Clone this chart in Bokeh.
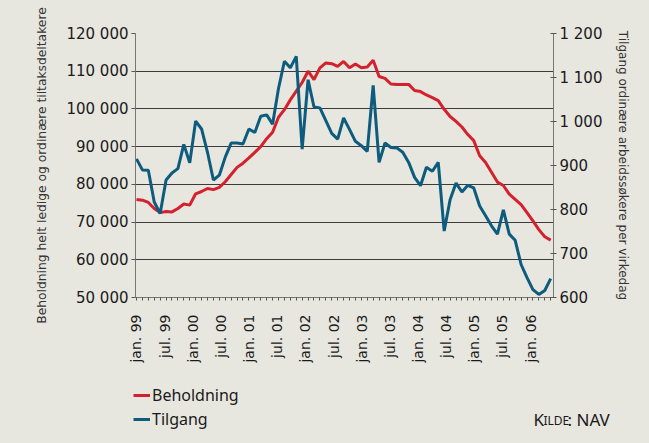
import math
from bokeh.plotting import figure
from bokeh.models import Range1d, LinearAxis, FixedTicker, Legend, LegendItem, Label
from bokeh.embed import file_html
from bokeh.resources import INLINE

# ---- data ----
beholdning = [76000, 75800, 75200, 73600, 72500, 72800, 72700, 73600, 74800, 74500,
              77500, 78100, 78900, 78600, 79200, 80700, 82600, 84500, 85600, 87000,
              88500, 90000, 92100, 93800, 97800, 99800, 102400, 104700, 107000, 110000,
              107800, 110900, 112200, 112000, 111300, 112600, 110900, 111900, 110900, 111100,
              112900, 108600, 108100, 106600, 106500, 106500, 106500, 104900, 104600, 103700,
              103000, 102200, 99900, 98000, 96700, 95200, 93200, 91600, 87600, 85800,
              83200, 80600, 79700, 77400, 76000, 74600, 72500, 70300, 68000, 66100, 65200]
tilgang = [915, 890, 889, 817, 791, 867, 883, 893, 948, 906,
           1001, 983, 930, 867, 878, 919, 951, 951, 949, 983,
           975, 1012, 1015, 994, 1075, 1137, 1122, 1148, 937, 1095,
           1033, 1031, 1002, 973, 960, 1008, 982, 955, 945, 932,
           1082, 907, 951, 941, 940, 930, 907, 873, 854, 896,
           887, 907, 751, 822, 860, 840, 855, 849, 808, 786,
           763, 744, 799, 744, 730, 675, 645, 618, 607, 616, 643]
tick_months = [0, 6, 12, 18, 24, 30, 36, 42, 48, 54, 60, 66, 72, 78, 84]
tick_labels = ["jan. 99", "jul. 99", "jan. 00", "jul. 00", "jan. 01", "jul. 01", "jan. 02",
               "jul. 02", "jan. 03", "jul. 03", "jan. 04", "jul. 04", "jan. 05", "jul. 05", "jan. 06"]
left_ticks = [50000, 60000, 70000, 80000, 90000, 100000, 110000, 120000]
left_labels = ["50 000", "60 000", "70 000", "80 000", "90 000", "100 000", "110 000", "120 000"]
right_ticks = [600, 700, 800, 900, 1000, 1100, 1200]
right_labels = ["600", "700", "800", "900", "1 000", "1 100", "1 200"]
span_months = 88.3  # time covered by the series (jan 99 -> ~may 06)

n = len(beholdning)
step = span_months / (n - 1)
x = [i * step for i in range(n)]

BG = "#e7e6df"
RED = "#d3212d"
BLUE = "#0d5c7d"
TXT = "#1a1a1a"
W = 645

p = figure(width=W, height=372, output_backend="svg", toolbar_location=None,
           x_range=Range1d(-0.21, 88.9), y_range=Range1d(50000, 120000),
           min_border_left=135, min_border_right=92, min_border_top=33, min_border_bottom=75,
           background_fill_color=BG, border_fill_color=BG, outline_line_color=None)
p.extra_y_ranges = {"right": Range1d(600, 1200)}

# grid
p.xgrid.visible = False
p.ygrid.ticker = FixedTicker(ticks=left_ticks)
p.ygrid.grid_line_color = "#3c3c3c"
p.ygrid.grid_line_width = 1

# left axis
ly = p.yaxis[0]
ly.ticker = FixedTicker(ticks=left_ticks)
ly.major_label_overrides = {t: l for t, l in zip(left_ticks, left_labels)}
ly.major_label_text_font = "DejaVu Sans"
ly.major_label_text_font_size = "15px"
ly.major_label_text_color = TXT
ly.major_tick_out = 4
ly.major_tick_in = 0
ly.minor_tick_line_color = None
ly.major_label_standoff = 3
ly.axis_line_color = "#777777"
ly.major_tick_line_color = "#555555"
ly.axis_label = "Beholdning helt ledige og ordinære tiltaksdeltakere"
ly.axis_label_text_font = "DejaVu Sans"
ly.axis_label_text_font_size = "12.3px"
ly.axis_label_text_font_style = "normal"
ly.axis_label_text_color = "#333333"
ly.axis_label_standoff = 14

# right axis
ry = LinearAxis(y_range_name="right", ticker=FixedTicker(ticks=right_ticks))
ry.major_label_overrides = {t: l for t, l in zip(right_ticks, right_labels)}
ry.major_label_text_font = "DejaVu Sans"
ry.major_label_text_font_size = "15px"
ry.major_label_text_color = TXT
ry.major_tick_out = 3
ry.major_tick_in = 3
ry.minor_tick_line_color = None
ry.major_label_standoff = 3
ry.axis_line_color = "#777777"
ry.major_tick_line_color = "#555555"
ry.axis_label = "Tilgang ordinære arbeidssøkere per virkedag"
ry.axis_label_text_font = "DejaVu Sans"
ry.axis_label_text_font_size = "12px"
ry.axis_label_text_font_style = "normal"
ry.axis_label_text_color = "#333333"
ry.axis_label_standoff = 11
p.add_layout(ry, "right")

# x axis
xa = p.xaxis[0]
xa.ticker = FixedTicker(ticks=tick_months, minor_ticks=x)
xa.major_label_overrides = {t: l for t, l in zip(tick_months, tick_labels)}
xa.major_label_orientation = math.pi / 2
xa.major_label_text_font = "DejaVu Sans"
xa.major_label_text_font_size = "14px"
xa.major_label_text_color = TXT
xa.major_tick_line_color = None
xa.major_tick_out = 3
xa.minor_tick_out = 3
xa.minor_tick_in = 0
xa.minor_tick_line_color = "#555555"
xa.major_label_standoff = 14
xa.axis_line_color = "#777777"

# series
r1 = p.line(x, beholdning, line_color=RED, line_width=3)
r2 = p.line(x, tilgang, y_range_name="right", line_color=BLUE, line_width=3)

# ---- legend / source strip (separate root, same background) ----
H2 = 64
p2 = figure(width=W, height=H2, output_backend="svg", toolbar_location=None,
            x_range=Range1d(0, 1), y_range=Range1d(0, 1), min_border=0,
            background_fill_color=BG, border_fill_color=BG, outline_line_color=None)
p2.axis.visible = False
p2.grid.visible = False
# same series, far outside this strip's range: only used for the legend swatches
g1 = p2.line(x, beholdning, line_color=RED, line_width=3)
g2 = p2.line(x, tilgang, line_color=BLUE, line_width=3)

legend = Legend(items=[LegendItem(label="Beholdning", renderers=[g1]),
                       LegendItem(label="Tilgang", renderers=[g2])],
                location=(133, 6), orientation="vertical",
                glyph_width=17, glyph_height=20, label_height=20, spacing=2,
                padding=0, margin=0, label_standoff=2,
                background_fill_alpha=0, border_line_color=None,
                label_text_font="Noto Sans", label_text_font_size="16px",
                label_text_color=TXT)
p2.add_layout(legend, "center")

# "Kilde: NAV" in small capitals
for txt, xs, ys, fs in [("K", 533, 6, "17px"), ("ILDE", 543, 7.5, "12px"), (": NAV", 567, 6, "17px")]:
    p2.add_layout(Label(x=xs, y=ys, x_units="screen", y_units="screen", text=txt,
                        text_font="Noto Sans", text_font_size=fs, text_color=TXT,
                        text_baseline="bottom"))

html = file_html([p, p2], INLINE)
html = html.replace("<head>", "<head><style>html, body { background: %s; }</style>" % BG, 1)
open("out.html", "w").write(html)
